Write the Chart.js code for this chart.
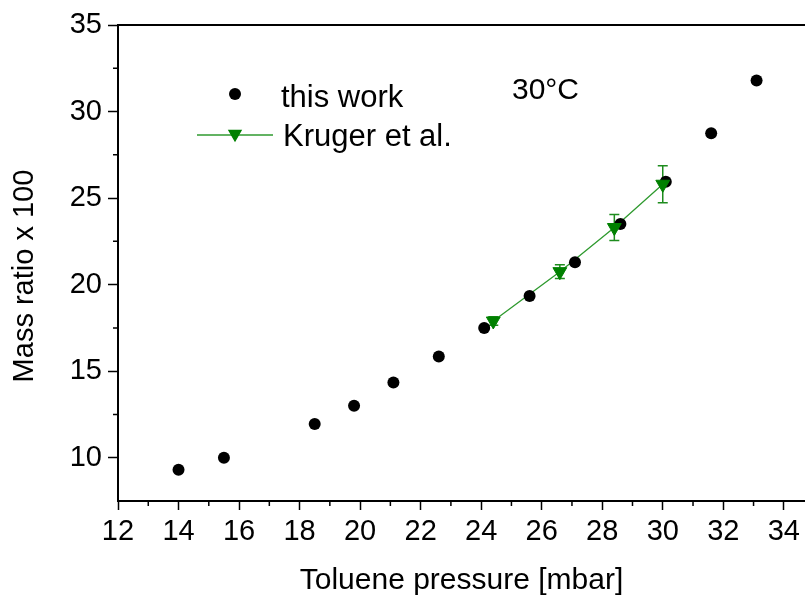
<!DOCTYPE html>
<html>
<head>
<meta charset="utf-8">
<script src="https://cdn.jsdelivr.net/npm/chart.js@4.4.0/dist/chart.umd.min.js"></script>
<style>
  html, body { margin: 0; padding: 0; background: #fff; }
  #wrap { width: 805px; height: 599px; }
</style>
</head>
<body>
<div id="wrap"><canvas id="massChart" width="805" height="599"></canvas></div>
<script>
// this work
const workPressure = [14.0, 15.5, 18.5, 19.8, 21.1, 22.6, 24.1, 25.6, 27.1, 28.6, 30.1, 31.6, 33.1];
const workRatio = [9.3, 10.0, 11.95, 13.0, 14.35, 15.85, 17.5, 19.35, 21.3, 23.5, 25.95, 28.75, 31.8];

// Kruger et al.
const krugerPressure = [24.4, 26.6, 28.4, 30.0];
const krugerRatio = [17.9, 20.75, 23.3, 25.8];
const krugerErr = [0.25, 0.4, 0.75, 1.07];

const xMajor = [12, 14, 16, 18, 20, 22, 24, 26, 28, 30, 32, 34];
const yMajor = [10, 15, 20, 25, 30, 35];

const FONT = "'Liberation Sans', Arial, sans-serif";
const GREEN = "#008000";
const LINE_GREEN = "#2f9a2f";

const toPts = (xs, ys) => xs.map((x, i) => ({ x: x, y: ys[i] }));

// minor ticks, top border, error bars, legend, labels
const extras = {
  id: "extras",
  beforeDatasetsDraw(chart) {
    const ctx = chart.ctx;
    const xs = chart.scales.x, ys = chart.scales.y;
    ctx.save();
    ctx.strokeStyle = "#1e8c1e";
    ctx.lineWidth = 1.5;
    krugerPressure.forEach((p, i) => {
      const px = xs.getPixelForValue(p);
      const top = ys.getPixelForValue(krugerRatio[i] + krugerErr[i]);
      const bot = ys.getPixelForValue(krugerRatio[i] - krugerErr[i]);
      ctx.beginPath();
      ctx.moveTo(px, top); ctx.lineTo(px, bot);
      ctx.moveTo(px - 5, top); ctx.lineTo(px + 5, top);
      ctx.moveTo(px - 5, bot); ctx.lineTo(px + 5, bot);
      ctx.stroke();
    });
    ctx.restore();
  },
  afterDraw(chart) {
    const ctx = chart.ctx;
    const xs = chart.scales.x, ys = chart.scales.y;
    const area = chart.chartArea;
    ctx.save();
    ctx.strokeStyle = "#000";
    ctx.lineWidth = 1.5;
    // minor ticks
    ctx.beginPath();
    for (let v = 13; v < 35; v += 2) {
      const px = xs.getPixelForValue(v);
      ctx.moveTo(px, area.bottom); ctx.lineTo(px, area.bottom + 5);
    }
    for (let v = 12.5; v < 35; v += 5) {
      const py = ys.getPixelForValue(v);
      ctx.moveTo(area.left, py); ctx.lineTo(area.left - 5, py);
    }
    ctx.stroke();
    // top border
    ctx.lineWidth = 2;
    ctx.beginPath();
    ctx.moveTo(area.left - 1, area.top); ctx.lineTo(area.right, area.top);
    ctx.stroke();

    // y title
    ctx.fillStyle = "#000";
    ctx.save();
    ctx.translate(33, 276);
    ctx.rotate(-Math.PI / 2);
    ctx.font = "29px " + FONT;
    ctx.textAlign = "center";
    ctx.textBaseline = "alphabetic";
    ctx.fillText("Mass ratio x 100", 0, 0);
    ctx.restore();

    // legend
    ctx.font = "31px " + FONT;
    ctx.textBaseline = "alphabetic";
    ctx.textAlign = "left";
    Chart.helpers.drawPoint(ctx, { pointStyle: "circle", radius: 6, borderWidth: 0 }, 235, 94);
    ctx.fillText("this work", 281, 107);

    ctx.strokeStyle = LINE_GREEN;
    ctx.lineWidth = 1.3;
    ctx.beginPath();
    ctx.moveTo(197, 135); ctx.lineTo(273, 135);
    ctx.stroke();
    ctx.fillStyle = GREEN;
    ctx.strokeStyle = GREEN;
    Chart.helpers.drawPoint(ctx, { pointStyle: "triangle", radius: 7, rotation: 180, borderWidth: 1 }, 235, 134);
    ctx.fillStyle = "#000";
    ctx.fillText("Kruger et al.", 283, 146);

    ctx.font = "30px " + FONT;
    ctx.fillText("30\u00B0C", 512, 99);
    ctx.restore();
  }
};

new Chart(document.getElementById("massChart"), {
  type: "scatter",
  data: {
    datasets: [
      {
        label: "Kruger et al. line",
        data: toPts(krugerPressure, krugerRatio),
        showLine: true,
        borderColor: LINE_GREEN,
        borderWidth: 1.3,
        pointRadius: 0,
        order: 3
      },
      {
        label: "this work",
        data: toPts(workPressure, workRatio),
        backgroundColor: "#000",
        borderColor: "#000",
        pointRadius: 6,
        pointBorderWidth: 0,
        order: 2
      },
      {
        label: "Kruger et al.",
        data: toPts(krugerPressure, krugerRatio),
        backgroundColor: GREEN,
        borderColor: GREEN,
        pointStyle: "triangle",
        pointRotation: 180,
        pointRadius: 8,
        pointBorderWidth: 1,
        order: 1
      }
    ]
  },
  options: {
    responsive: false,
    animation: false,
    layout: { autoPadding: false, padding: { top: 25, right: 0, left: 0, bottom: 0 } },
    plugins: { legend: { display: false }, tooltip: { enabled: false } },
    scales: {
      x: {
        type: "linear",
        min: 12,
        max: 34.7,
        afterBuildTicks: (s) => { s.ticks = xMajor.map(v => ({ value: v })); },
        afterFit: (s) => { s.height = 98; s.paddingLeft = 0; s.paddingRight = 0; },
        ticks: { color: "#000", font: { family: FONT, size: 29 }, padding: 5, maxRotation: 0, autoSkip: false },
        grid: { drawOnChartArea: false, drawTicks: true, tickLength: 9, tickColor: "#000", tickWidth: 1.5 },
        border: { display: true, color: "#000", width: 2 },
        title: { display: true, text: "Toluene pressure [mbar]", color: "#000", font: { family: FONT, size: 30 }, padding: { top: 4, bottom: 0 } }
      },
      y: {
        type: "linear",
        min: 7.5,
        max: 35,
        afterBuildTicks: (s) => { s.ticks = yMajor.map(v => ({ value: v })); },
        afterFit: (s) => { s.width = 118; s.paddingTop = 0; s.paddingBottom = 0; },
        ticks: { color: "#000", font: { family: FONT, size: 29 }, padding: 6, autoSkip: false },
        grid: { drawOnChartArea: false, drawTicks: true, tickLength: 10, tickColor: "#000", tickWidth: 1.5 },
        border: { display: true, color: "#000", width: 2 },
        title: { display: false }
      }
    }
  },
  plugins: [extras]
});
</script>
</body>
</html>
